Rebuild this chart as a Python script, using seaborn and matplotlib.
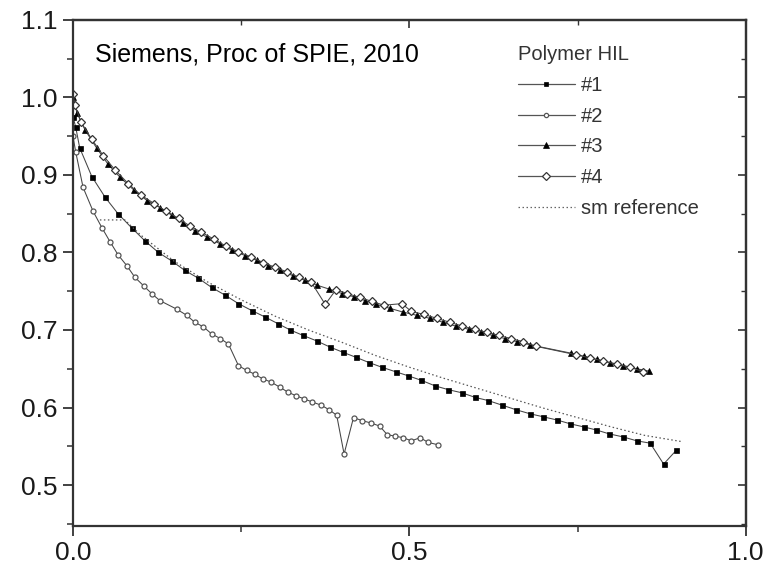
import numpy as np
import pandas as pd
import matplotlib
matplotlib.use("Agg")
import matplotlib.pyplot as plt
import seaborn as sns
from matplotlib.ticker import MultipleLocator, FixedLocator
from matplotlib.lines import Line2D

# ---------------- data ----------------
s1_x = [0.000, 0.004, 0.010, 0.028, 0.048, 0.067, 0.087, 0.107, 0.127, 0.147, 0.166, 0.186,
        0.206, 0.226, 0.246, 0.266, 0.285, 0.305, 0.323, 0.342, 0.362, 0.382, 0.402, 0.420,
        0.440, 0.459, 0.480, 0.498, 0.518, 0.538, 0.558, 0.578, 0.598, 0.617, 0.638, 0.659,
        0.679, 0.699, 0.719, 0.739, 0.759, 0.778, 0.797, 0.818, 0.838, 0.858, 0.878, 0.897]
s1_y = [0.975, 0.962, 0.935, 0.898, 0.871, 0.850, 0.832, 0.815, 0.800, 0.789, 0.777, 0.767,
        0.755, 0.745, 0.734, 0.725, 0.717, 0.708, 0.700, 0.693, 0.686, 0.678, 0.671, 0.665,
        0.658, 0.652, 0.646, 0.641, 0.635, 0.628, 0.623, 0.619, 0.613, 0.609, 0.603, 0.597,
        0.592, 0.588, 0.584, 0.579, 0.575, 0.571, 0.566, 0.562, 0.557, 0.554, 0.527, 0.545]

s2_x = [0.000, 0.004, 0.015, 0.030, 0.043, 0.055, 0.067, 0.080, 0.092, 0.105, 0.117, 0.129,
        0.154, 0.169, 0.181, 0.194, 0.206, 0.219, 0.231, 0.246, 0.258, 0.270, 0.282, 0.294,
        0.308, 0.319, 0.332, 0.344, 0.356, 0.369, 0.381, 0.392, 0.403, 0.417, 0.430, 0.443,
        0.456, 0.467, 0.479, 0.491, 0.503, 0.516, 0.528, 0.542]
s2_y = [0.950, 0.930, 0.884, 0.853, 0.832, 0.814, 0.797, 0.783, 0.768, 0.757, 0.747, 0.738,
        0.727, 0.719, 0.710, 0.704, 0.695, 0.689, 0.682, 0.654, 0.648, 0.643, 0.637, 0.633,
        0.626, 0.620, 0.615, 0.611, 0.607, 0.603, 0.597, 0.590, 0.540, 0.587, 0.583, 0.580,
        0.576, 0.565, 0.563, 0.561, 0.557, 0.561, 0.555, 0.552]

s3_x = [0.000, 0.006, 0.018, 0.035, 0.052, 0.070, 0.090, 0.110, 0.129, 0.147, 0.164, 0.181,
        0.199, 0.219, 0.236, 0.256, 0.273, 0.290, 0.308, 0.327, 0.345, 0.362, 0.380, 0.400,
        0.417, 0.434, 0.451, 0.471, 0.491, 0.511, 0.531, 0.550, 0.569, 0.588, 0.606, 0.624,
        0.642, 0.660, 0.679, 0.741, 0.760, 0.779, 0.798, 0.818, 0.838, 0.856]
s3_y = [1.000, 0.980, 0.958, 0.935, 0.914, 0.897, 0.881, 0.867, 0.858, 0.848, 0.838, 0.828,
        0.820, 0.811, 0.803, 0.796, 0.790, 0.783, 0.777, 0.770, 0.764, 0.758, 0.753, 0.747,
        0.743, 0.738, 0.733, 0.728, 0.723, 0.719, 0.715, 0.710, 0.705, 0.701, 0.697, 0.693,
        0.689, 0.685, 0.681, 0.670, 0.666, 0.662, 0.658, 0.654, 0.650, 0.647]

s4_x = [0.000, 0.003, 0.012, 0.028, 0.045, 0.063, 0.082, 0.101, 0.121, 0.139, 0.157, 0.174,
        0.191, 0.210, 0.228, 0.246, 0.265, 0.283, 0.300, 0.318, 0.336, 0.354, 0.375, 0.391,
        0.408, 0.426, 0.444, 0.462, 0.489, 0.503, 0.522, 0.541, 0.560, 0.579, 0.597, 0.615,
        0.633, 0.651, 0.669, 0.688, 0.748, 0.768, 0.788, 0.808, 0.828, 0.848]
s4_y = [1.005, 0.990, 0.968, 0.946, 0.925, 0.906, 0.889, 0.874, 0.863, 0.853, 0.844, 0.834,
        0.826, 0.817, 0.808, 0.801, 0.794, 0.787, 0.781, 0.775, 0.768, 0.762, 0.733, 0.752,
        0.747, 0.742, 0.737, 0.732, 0.734, 0.724, 0.720, 0.715, 0.710, 0.705, 0.701, 0.697,
        0.693, 0.689, 0.685, 0.679, 0.668, 0.664, 0.660, 0.656, 0.652, 0.646]

sm_x = [0.040, 0.077, 0.100, 0.150, 0.200, 0.250, 0.300, 0.350, 0.400, 0.450, 0.500, 0.550,
        0.600, 0.650, 0.700, 0.750, 0.800, 0.850, 0.905]
sm_y = [0.842, 0.842, 0.823, 0.789, 0.762, 0.739, 0.718, 0.700, 0.684, 0.667, 0.652, 0.638,
        0.625, 0.612, 0.599, 0.587, 0.575, 0.564, 0.556]

labels = ["#1", "#2", "#3", "#4", "sm reference"]
legend_title = "Polymer HIL"
annotation = "Siemens, Proc of SPIE, 2010"
x_ticks = [0.0, 0.5, 1.0]
y_ticks = [0.5, 0.6, 0.7, 0.8, 0.9, 1.0, 1.1]

# ---------------- style ----------------
sns.set_theme(style="ticks")
plt.rcParams["font.family"] = ["Liberation Sans", "DejaVu Sans"]

fig = plt.figure(figsize=(7.69, 5.69), dpi=100)
ax = fig.add_axes([0.0949, 0.0761, 0.8748, 0.8888])

line_c = "#444444"
series = [
    (s1_x, s1_y, dict(marker="s", ms=3.6, mfc="black", mec="black", mew=0.5)),
    (s2_x, s2_y, dict(marker="o", ms=3.6, mfc="white", mec="#555555", mew=0.9)),
    (s3_x, s3_y, dict(marker="^", ms=5.0, mfc="black", mec="black", mew=0.5)),
    (s4_x, s4_y, dict(marker="D", ms=4.3, mfc="white", mec="#333333", mew=0.9)),
]
handles = []
for (xs, ys, mk), lab in zip(series, labels[:4]):
    df = pd.DataFrame({"x": xs, "y": ys})
    sns.lineplot(data=df, x="x", y="y", ax=ax, sort=False, estimator=None,
                 color=line_c, lw=0.75, **mk)
    hmk = dict(mk)
    hmk["ms"] = mk["ms"] * 0.85
    handles.append(Line2D([], [], color="#555555", lw=0.9, **hmk))

dsm = pd.DataFrame({"x": sm_x, "y": sm_y})
sns.lineplot(data=dsm, x="x", y="y", ax=ax, sort=False, estimator=None,
             color="#555555", lw=0.9, dashes=False, linestyle=(0, (1.2, 2.0)))
handles.append(Line2D([], [], color="#666666", lw=0.9, linestyle=(0, (1.2, 2.0))))

ax.set_xlim(0, 1.0)
ax.set_ylim(0.4475, 1.1)
ax.set_xlabel("")
ax.set_ylabel("")

ax.xaxis.set_major_locator(FixedLocator(x_ticks))
ax.yaxis.set_major_locator(FixedLocator(y_ticks))
ax.xaxis.set_minor_locator(MultipleLocator(0.25))
ax.yaxis.set_minor_locator(MultipleLocator(0.05))
ax.set_xticklabels([f"{v:.1f}" for v in x_ticks])
ax.set_yticklabels([f"{v:.1f}" for v in y_ticks])

spine_c = "#333333"
for s in ax.spines.values():
    s.set_visible(True)
    s.set_color(spine_c)
    s.set_linewidth(1.6)

ax.tick_params(which="major", direction="out", length=7, width=1.3, color=spine_c,
               labelsize=19, labelcolor="#1a1a1a", pad=4)
ax.tick_params(which="minor", direction="out", length=4, width=1.1, color=spine_c)

# mirrored inward ticks on top and right
sec_x = ax.secondary_xaxis("top")
sec_x.xaxis.set_major_locator(FixedLocator(x_ticks))
sec_x.xaxis.set_minor_locator(MultipleLocator(0.25))
sec_x.tick_params(which="major", direction="in", length=6, width=1.2, color=spine_c,
                  labeltop=False)
sec_x.tick_params(which="minor", direction="in", length=3.5, width=1.0, color=spine_c)
sec_x.spines["top"].set_color(spine_c)
sec_x.spines["top"].set_linewidth(1.6)

sec_y = ax.secondary_yaxis("right")
sec_y.yaxis.set_major_locator(FixedLocator(y_ticks))
sec_y.yaxis.set_minor_locator(MultipleLocator(0.05))
sec_y.tick_params(which="major", direction="in", length=6, width=1.2, color=spine_c,
                  labelright=False)
sec_y.tick_params(which="minor", direction="in", length=3.5, width=1.0, color=spine_c)
sec_y.spines["right"].set_color(spine_c)
sec_y.spines["right"].set_linewidth(1.6)

ax.text(0.033, 0.917, annotation, transform=ax.transAxes, fontsize=18,
        color="black", ha="left", va="baseline")

leg = ax.legend(handles, labels, title=legend_title, loc="upper left",
                bbox_to_anchor=(0.641, 0.978), frameon=False, fontsize=14.5,
                title_fontsize=14.5, handlelength=2.8, handletextpad=0.3,
                labelspacing=0.58, numpoints=1, alignment="left", borderpad=0.2)
for t in leg.get_texts():
    t.set_color("#333333")
leg.get_title().set_color("#333333")

fig.savefig("out.png", dpi=100)
